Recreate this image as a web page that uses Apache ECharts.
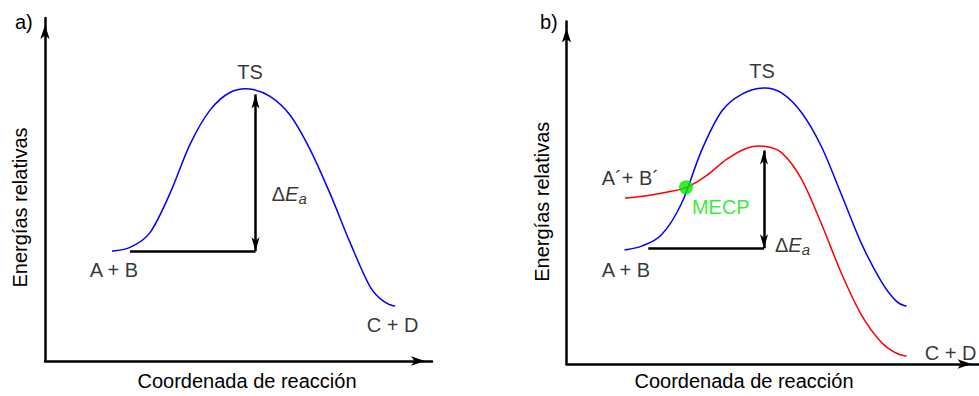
<!DOCTYPE html>
<html><head><meta charset="utf-8">
<script src="https://cdn.jsdelivr.net/npm/echarts@6/dist/echarts.min.js"></script>
<style>html,body{margin:0;padding:0;background:#fff}#c{width:979px;height:396px}</style>
</head><body><div id="c"></div>
<script>
// ---------- data (arbitrary energy units / reaction coordinate units) ----------
const panelTitles = ['a)', 'b)'];
const xTitle = 'Coordenada de reacción';
const yTitle = 'Energías relativas';

// Panel a): single potential energy surface
const curveA = [[67,112],[85,116],[105,131],[125,171],[145,221],[165,256],[185,274],[205,277.5],[225,270],[245,251],[265,216],[285,171],[305,121],[325,76],[340,60],[350,56]];
// Panel b): blue surface (same spin) and red surface (other spin)
const curveBBlue = [[58,116.5],[75,120.5],[95,132],[115,164],[135,218],[155,258],[175,275.5],[197,282],[215,277],[235,257],[255,222],[275,173],[295,123],[315,84],[330,64],[340,59]];
const curveBRed = [[58.5,169.5],[80,172],[100,175.5],[120,180.5],[140,192.5],[160,209],[180,220.5],[197,222.5],[215,216],[235,189],[255,143],[275,92.5],[295,50],[315,22],[330,11],[340,8]];
const mecpPoint = [[119.5,180.5]];

// Activation energy: arrow x, baseline y, top y, baseline start x
const barrierA = {x: 210.5, y0: 112, y1: 272, xStart: 85};
const barrierB = {x: 197.5, y0: 118.2, y1: 218.2, xStart: 81.8};

// Annotations: [text, x, y, align]
const labelsA = [['TS',205,295,'center'],['A + B',69,93,'center'],['C + D',347.7,36.3,'center'],['{d|Δ}{e|E}{s|a}',226.7,170,'left']];
const labelsB = [['TS',195.5,299.5,'center'],['A´+ B´',35.2,189.8,'left'],['A + B',59.5,96.5,'center'],['C + D',384,11.5,'center'],['MECP',154.3,160.8,'center'],['{d|Δ}{e|E}{s|a}',208.5,121.5,'left']];

// ---------- chart ----------
const FONT = 'Liberation Sans, Arial, Helvetica, sans-serif';
const FS = 20;
const GREEN = '#00e800';
const chart = echarts.init(document.getElementById('c'), null, {renderer: 'svg'});

function nameStyle(padding) {
  return {color: '#000', fontFamily: FONT, fontSize: FS, padding: padding};
}
function axisCommon(extra) {
  return Object.assign({
    type: 'value',
    axisLine: {show: true, onZero: false, symbol: ['none','arrow'], symbolSize: [7,14], symbolOffset: [0,-7], lineStyle: {color: '#000', width: 2.5}},
    axisTick: {show: false}, axisLabel: {show: false}, splitLine: {show: false},
    nameLocation: 'middle'
  }, extra);
}

const rich = {
  d: {fontFamily: FONT, fontSize: FS, color: '#000', verticalAlign: 'middle', lineHeight: 24},
  e: {fontFamily: FONT, fontSize: FS, color: '#000', fontStyle: 'italic', verticalAlign: 'middle', lineHeight: 24},
  s: {fontFamily: FONT, fontSize: 15, color: '#000', fontStyle: 'italic', verticalAlign: 'bottom', lineHeight: 24}
};

function labelSeries(labels, gi) {
  return {
    type: 'scatter', xAxisIndex: gi, yAxisIndex: gi, symbolSize: 0, silent: true, z: 5,
    data: labels.map(l => ({
      value: [l[1], l[2]], name: l[0],
      label: {align: l[3], color: l[0] === 'MECP' ? GREEN : '#000'}
    })),
    label: {show: true, position: 'inside', formatter: p => p.name, fontFamily: FONT, fontSize: FS, color: '#000', verticalAlign: 'middle', rich: rich}
  };
}

function barrierMarks(b) {
  return {
    silent: true, symbol: ['arrow','arrow'], symbolSize: [6,14],
    lineStyle: {color: '#000', width: 2.5, type: 'solid'}, label: {show: false}, emphasis: {disabled: true},
    data: [
      [{coord: [b.xStart, b.y0], symbol: 'none'}, {coord: [b.x, b.y0], symbol: 'none'}],
      [{coord: [b.x, b.y0]}, {coord: [b.x, b.y1]}]
    ]
  };
}

// Smooth curve through the data points (Catmull-Rom), mapped with the axes' scales
function curve(data, color, gi, extra) {
  return Object.assign({
    type: 'custom', xAxisIndex: gi, yAxisIndex: gi, data: data, silent: true,
    encode: {x: 0, y: 1},
    renderItem: function (params, api) {
      if (params.dataIndex !== 0) return null;
      const p = data.map(d => api.coord(d));
      const n = p.length;
      let s = 'M' + p[0][0] + ' ' + p[0][1];
      for (let i = 0; i < n - 1; i++) {
        const p0 = p[Math.max(i - 1, 0)], p1 = p[i], p2 = p[i + 1], p3 = p[Math.min(i + 2, n - 1)];
        const c1 = [p1[0] + (p2[0] - p0[0]) / 6, p1[1] + (p2[1] - p0[1]) / 6];
        const c2 = [p2[0] - (p3[0] - p1[0]) / 6, p2[1] - (p3[1] - p1[1]) / 6];
        s += ' C' + c1[0] + ' ' + c1[1] + ' ' + c2[0] + ' ' + c2[1] + ' ' + p2[0] + ' ' + p2[1];
      }
      return {type: 'path', shape: {pathData: s}, style: {stroke: color, lineWidth: 1.5, fill: 'none'}};
    }
  }, extra || {});
}

chart.setOption({
  animation: false,
  backgroundColor: '#fff',
  grid: [
    {left: 45, top: 18, width: 387, height: 350},
    {left: 566.5, top: 21.5, width: 412, height: 350}
  ],
  xAxis: [
    axisCommon({gridIndex: 0, min: 0, max: 387, name: xTitle, nameGap: 10, nameTextStyle: nameStyle([0,0,0,17])}),
    axisCommon({gridIndex: 1, min: 0, max: 412, name: xTitle, nameGap: 7, nameTextStyle: nameStyle([0,57,0,0])})
  ],
  yAxis: [
    axisCommon({gridIndex: 0, min: 0, max: 350, name: yTitle, nameGap: 15, nameTextStyle: nameStyle([0,36,0,0])}),
    axisCommon({gridIndex: 1, min: 0, max: 350, name: yTitle, nameGap: 15, nameTextStyle: nameStyle([0,18,0,0])})
  ],
  graphic: [
    {type: 'text', left: 15, top: 12, style: {text: panelTitles[0], font: FS + 'px ' + FONT, fill: '#000'}},
    {type: 'text', left: 540, top: 12, style: {text: panelTitles[1], font: FS + 'px ' + FONT, fill: '#000'}}
  ],
  series: [
    curve(curveA, '#0000ff', 0),
    {type: 'line', xAxisIndex: 0, yAxisIndex: 0, data: [], markLine: barrierMarks(barrierA)},
    labelSeries(labelsA, 0),
    curve(curveBBlue, '#0000ff', 1),
    curve(curveBRed, '#ff0000', 1),
    {type: 'line', xAxisIndex: 1, yAxisIndex: 1, data: [], markLine: barrierMarks(barrierB)},
    {type: 'scatter', xAxisIndex: 1, yAxisIndex: 1, data: mecpPoint, symbol: 'circle', symbolSize: 14, itemStyle: {color: GREEN}, silent: true, z: 4},
    labelSeries(labelsB, 1)
  ]
});
</script></body></html>
